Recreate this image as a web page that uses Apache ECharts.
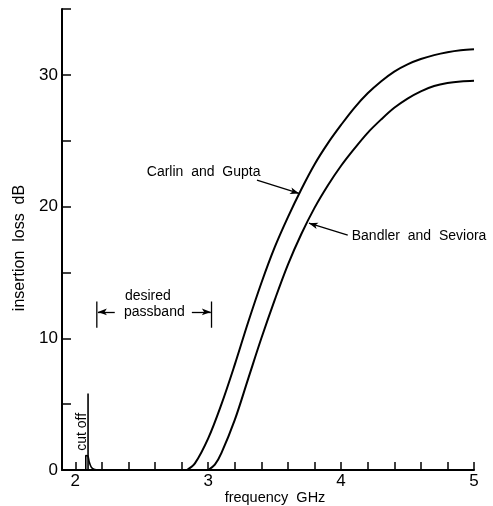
<!DOCTYPE html>
<html>
<head>
<meta charset="utf-8">
<script src="https://cdn.jsdelivr.net/npm/echarts@6/dist/echarts.min.js"></script>
<style>
  html, body { margin: 0; padding: 0; background: #fff; }
  #chart { width: 493px; height: 506px; }
</style>
</head>
<body>
<div id="chart"></div>
<script>
// ---- data ----
const xTickValues = [2.0, 2.2, 2.4, 2.6, 2.8, 3.0, 3.2, 3.4, 3.6, 3.8, 4.0, 4.2, 4.4, 4.6, 4.8, 5.0];
const xLabelValues = [2, 3, 4, 5];
const yTickValues = [0, 5, 10, 15, 20, 25, 30, 35];
const yLabelValues = [0, 10, 20, 30];

const carlinGupta = [
  [2.84, 0], [2.9, 0.5], [3.0, 2.4], [3.1, 5.0], [3.2, 8.0], [3.3, 11.2], [3.4, 14.2],
  [3.5, 16.9], [3.6, 19.2], [3.7, 21.3], [3.8, 23.2], [3.9, 24.8], [4.0, 26.2],
  [4.1, 27.5], [4.2, 28.6], [4.3, 29.5], [4.4, 30.25], [4.5, 30.8], [4.6, 31.2],
  [4.7, 31.5], [4.8, 31.72], [4.9, 31.87], [5.0, 31.95]
];
const bandlerSeviora = [
  [3.0, 0], [3.05, 0.4], [3.1, 1.3], [3.2, 3.8], [3.3, 6.9], [3.4, 10.0], [3.5, 12.9],
  [3.6, 15.6], [3.7, 17.9], [3.8, 19.9], [3.9, 21.6], [4.0, 23.1], [4.1, 24.4],
  [4.2, 25.6], [4.3, 26.6], [4.4, 27.5], [4.5, 28.2], [4.6, 28.75], [4.7, 29.15],
  [4.8, 29.38], [4.9, 29.5], [5.0, 29.55]
];
const cutoffMarker = [[2.096, 0], [2.096, 5.8]];
const cutoffBump = [[2.079, 0], [2.079, 1.1], [2.095, 1.05], [2.105, 0.6], [2.12, 0.22], [2.14, 0.06], [2.18, 0]];
const passbandLeftBar = [[2.162, 10.8], [2.162, 12.8]];
const passbandRightBar = [[3.025, 10.8], [3.025, 12.8]];
const arrows = [
  { from: [2.297, 12.0], to: [2.17, 12.0] },
  { from: [2.877, 12.0], to: [3.02, 12.0] },
  { from: [3.367, 22.0], to: [3.684, 21.0] },
  { from: [4.05, 17.83], to: [3.758, 18.74] }
];
const labels = [
  { text: 'Carlin  and  Gupta', at: [2.538, 22.6], align: 'left' },
  { text: 'Bandler  and  Seviora', at: [4.08, 17.75], align: 'left' },
  { text: 'desired', at: [2.546, 13.2], align: 'center' },
  { text: 'passband', at: [2.595, 12.0], align: 'center' },
  { text: 'cut off', at: [2.052, 2.9], align: 'center', rotate: true }
];

const FONT = '"Liberation Sans", Arial, sans-serif';
const chart = echarts.init(document.getElementById('chart'));

const thinLine = { color: '#000', width: 1.3 };
const option = {
  animation: false,
  backgroundColor: '#fff',
  grid: { left: 62, right: 19, top: 9, bottom: 36, outerBoundsMode: 'none', containLabel: false },
  xAxis: {
    type: 'value', min: 1.9, max: 5,
    name: 'frequency  GHz', nameLocation: 'middle', nameGap: 20, nameMoveOverlap: false,
    nameTextStyle: { fontFamily: FONT, fontSize: 14.5, color: '#000', padding: [0, 0, 0, 14] },
    axisLine: { show: true, onZero: false, lineStyle: { color: '#000', width: 2 } },
    axisTick: { show: true, inside: true, length: 8, customValues: xTickValues, lineStyle: { color: '#000', width: 1.5 } },
    axisLabel: { customValues: xLabelValues, fontFamily: FONT, fontSize: 17, color: '#000', margin: 3, formatter: v => String(v) },
    splitLine: { show: false }
  },
  yAxis: {
    type: 'value', min: 0, max: 35,
    name: 'insertion  loss  dB', nameLocation: 'middle', nameGap: 34,
    nameTextStyle: { fontFamily: FONT, fontSize: 16, color: '#000', padding: [0, 17, 0, 0] },
    axisLine: { show: true, onZero: false, lineStyle: { color: '#000', width: 2 } },
    axisTick: { show: true, inside: true, length: 9, customValues: yTickValues, lineStyle: { color: '#000', width: 1.5 } },
    axisLabel: { customValues: yLabelValues, fontFamily: FONT, fontSize: 17, color: '#000', margin: 4, formatter: v => String(v) },
    splitLine: { show: false }
  },
  series: [
    { name: 'Carlin and Gupta', type: 'line', data: carlinGupta, smooth: 0.35, showSymbol: false, lineStyle: { color: '#000', width: 2 } },
    { name: 'Bandler and Seviora', type: 'line', data: bandlerSeviora, smooth: 0.35, showSymbol: false, lineStyle: { color: '#000', width: 2 } },
    { name: 'cut off marker', type: 'line', data: cutoffMarker, showSymbol: false, lineStyle: { color: '#000', width: 1.6 } },
    { name: 'cut off bump', type: 'line', data: cutoffBump, smooth: 0.3, showSymbol: false, lineStyle: { color: '#000', width: 1.6 } },
    { name: 'passband left', type: 'line', data: passbandLeftBar, showSymbol: false, lineStyle: thinLine },
    { name: 'passband right', type: 'line', data: passbandRightBar, showSymbol: false, lineStyle: thinLine },
    {
      name: 'arrows', type: 'line', data: [],
      markLine: {
        silent: true, animation: false,
        symbol: ['none', 'arrow'], symbolSize: [5, 9],
        label: { show: false },
        lineStyle: { color: '#000', width: 1.3, type: 'solid' },
        data: arrows.map(a => [{ coord: a.from }, { coord: a.to }])
      }
    }
  ]
};
chart.setOption(option);

const graphics = labels.map(l => {
  const p = chart.convertToPixel({ gridIndex: 0 }, l.at);
  return {
    type: 'text', x: p[0], y: p[1], rotation: l.rotate ? Math.PI / 2 : 0,
    style: { text: l.text, font: '14px ' + FONT, fill: '#000', align: l.align, verticalAlign: 'middle' }
  };
});
chart.setOption({ graphic: graphics });
</script>
</body>
</html>
